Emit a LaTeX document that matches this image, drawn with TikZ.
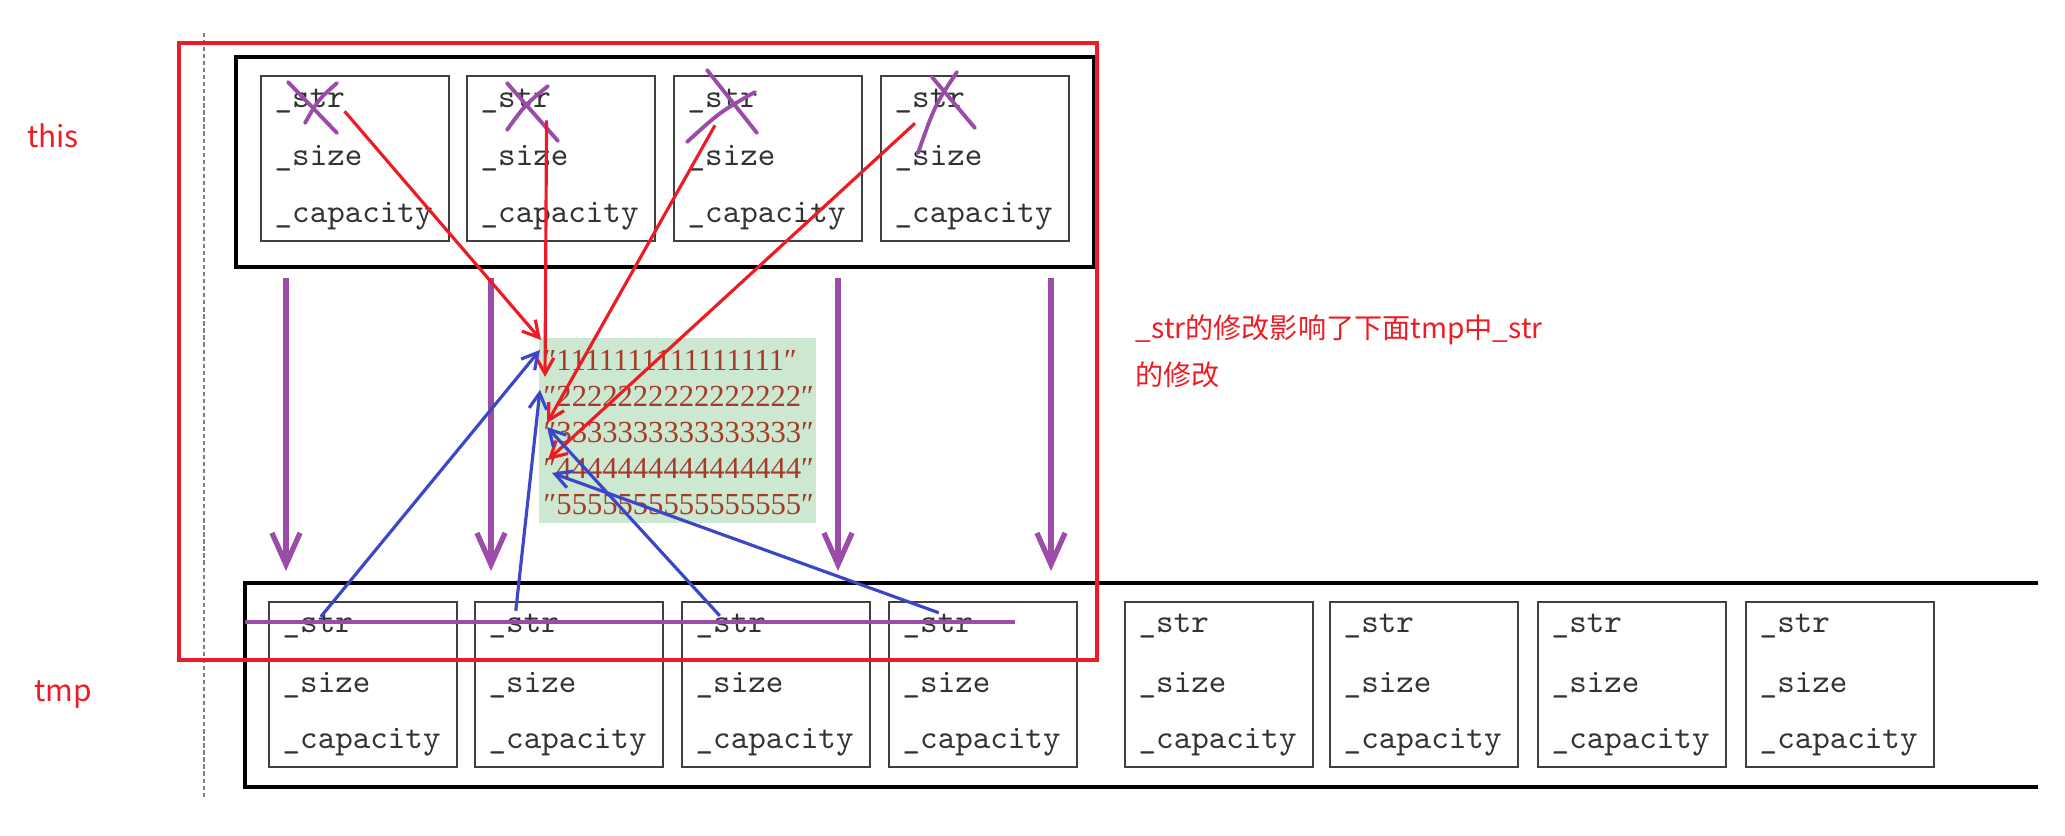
\documentclass[tikz,border=0pt]{standalone}
\usepackage{fontspec}
\usetikzlibrary{arrows.meta,positioning}
\newfontfamily\cjk{Noto Sans CJK SC}
\newfontfamily\strfont{Liberation Serif}
\definecolor{penred}{RGB}{237,28,36}
\definecolor{penpurple}{RGB}{155,75,168}
\definecolor{penblue}{RGB}{60,70,200}
\definecolor{strgreen}{RGB}{204,232,208}
\definecolor{strbrown}{RGB}{165,58,42}
\tikzset{
  member/.style={draw=black!75, line width=0.45pt, minimum width=1.88cm, minimum height=1.65cm, inner sep=0pt, anchor=north west},
  field/.style={anchor=base west, inner sep=0pt, text=black!80, font=\ttfamily\fontsize{9.5}{11}\selectfont},
  strline/.style={anchor=base west, inner sep=0pt, text=strbrown, font=\strfont\fontsize{8.7}{10}\selectfont},
  redtext/.style={text=penred, font=\cjk\fontsize{8.5}{13.4}\selectfont, align=left},
  redref/.style={draw=penred, line width=0.9pt, -{Straight Barb[length=4.5pt,width=5pt]}},
  blueref/.style={draw=penblue, line width=0.9pt, -{Straight Barb[length=4.5pt,width=5pt]}},
  copyarrow/.style={draw=penpurple, line width=1.5pt, -{Straight Barb[length=9pt,width=8pt]}},
  cross/.style={draw=penpurple, line width=1.1pt, line cap=round}
}
\begin{document}
\begin{tikzpicture}[x=0.01cm,y=-0.01cm]
\useasboundingbox (0,0) rectangle (2065,836);

	% separator
	\draw[gray, line width=0.6pt, dash pattern=on 1.2pt off 0.8pt] (204,33) -- (204,797);

	% labels
	\node[redtext] (thislbl) at (53,136) {this};
	\node[redtext] (tmplbl) at (63,695) {tmp};
	\node[redtext, font=\cjk\fontsize{8}{13.4}\selectfont, anchor=north west, inner sep=0pt] (note) at (1135,314) {\_str的修改影响了下面tmp中\_str\\的修改};

	% containers
	\draw[line width=1.15pt] (236,57) rectangle (1094,267);
	\draw[line width=1.15pt] (2038,583) -| (245,787) -- (2038,787);

	% this
	\foreach \i/\x in {1/260,2/466,3/673,4/880}{
		\node[member] (t\i) at (\x,75) {};
		\node[field] (t\i-str) at ([shift={(14,32)}]t\i.north west) {\_str};
		\node[field] (t\i-size) at ([shift={(14,90)}]t\i.north west) {\_size};
		\node[field] (t\i-cap) at ([shift={(14,147)}]t\i.north west) {\_capacity};
	}

	% tmp
	\foreach \i/\x in {1/268,2/474,3/681,4/888,5/1124,6/1329,7/1537,8/1745}{
		\node[member] (m\i) at (\x,601) {};
		\node[field] (m\i-str) at ([shift={(14,31)}]m\i.north west) {\_str};
		\node[field] (m\i-size) at ([shift={(14,91)}]m\i.north west) {\_size};
		\node[field] (m\i-cap) at ([shift={(14,147)}]m\i.north west) {\_capacity};
	}

	% strings on the heap
	\node[fill=strgreen, minimum width=2.77cm, minimum height=1.85cm, anchor=north west, inner sep=0pt] (heap) at (538,337) {};
	\foreach \i/\d/\y in {1/1/370,2/2/406,3/3/442,4/4/478,5/5/514}{
		\node[strline] (s\i) at (543,\y) {″\d\d\d\d\d\d\d\d\d\d\d\d\d\d\d\d″};
	}

	% copies
	\foreach \x in {286,491,838,1051}
		\draw[copyarrow] (\x,278) -- (\x,571);

	% crossed out
	\draw[cross] (288,82) -- (337,133);
	\draw[cross] (337,83) .. controls (318,100) .. (305,123);
	\draw[cross] (507,83) -- (558,141);
	\draw[cross] (548,86) .. controls (525,105) .. (507,130);
	\draw[cross] (707,70) -- (757,133);
	\draw[cross] (755,92) .. controls (720,112) .. (687,142);
	\draw[cross] (932,77) -- (975,128);
	\draw[cross] (957,72) .. controls (935,105) .. (918,153);

	% this->_str
	\draw[redref] ([shift={(-1,-2)}]t1-str.south east) -- ([shift={(-2,-20)}]s1.west);
	\draw[redref] ([shift={(-5,7)}]t2-str.south east) -- ([shift={(2,-19)}]s2.west);
	\draw[redref] ([shift={(28,12)}]t3-str.south west) -- ([shift={(4,-9)}]s3.west);
	\draw[redref] ([shift={(21,10)}]t4-str.south west) -- ([shift={(5,-8)}]s4.west);

	% tmp->_str
	\draw[blueref] ([shift={(3,4)}]m1-str.north) -- ([shift={(-3,-10)}]s1.west);
	\draw[blueref] ([shift={(-8,-2)}]m2-str.north) -- ([shift={(-3,-6)}]s2.west);
	\draw[blueref] ([shift={(-11,3)}]m3-str.north) -- ([shift={(4,-5)}]s3.west);
	\draw[blueref] ([shift={(1,0)}]m4-str.north) -- ([shift={(9,5)}]s4.west);

	% struck field
	\draw[draw=penpurple, line width=1pt] (245,622) -- (1015,622);

	% frame
	\draw[penred, line width=1.4pt] (179,43) rectangle (1097,660);
\end{tikzpicture}
\end{document}
